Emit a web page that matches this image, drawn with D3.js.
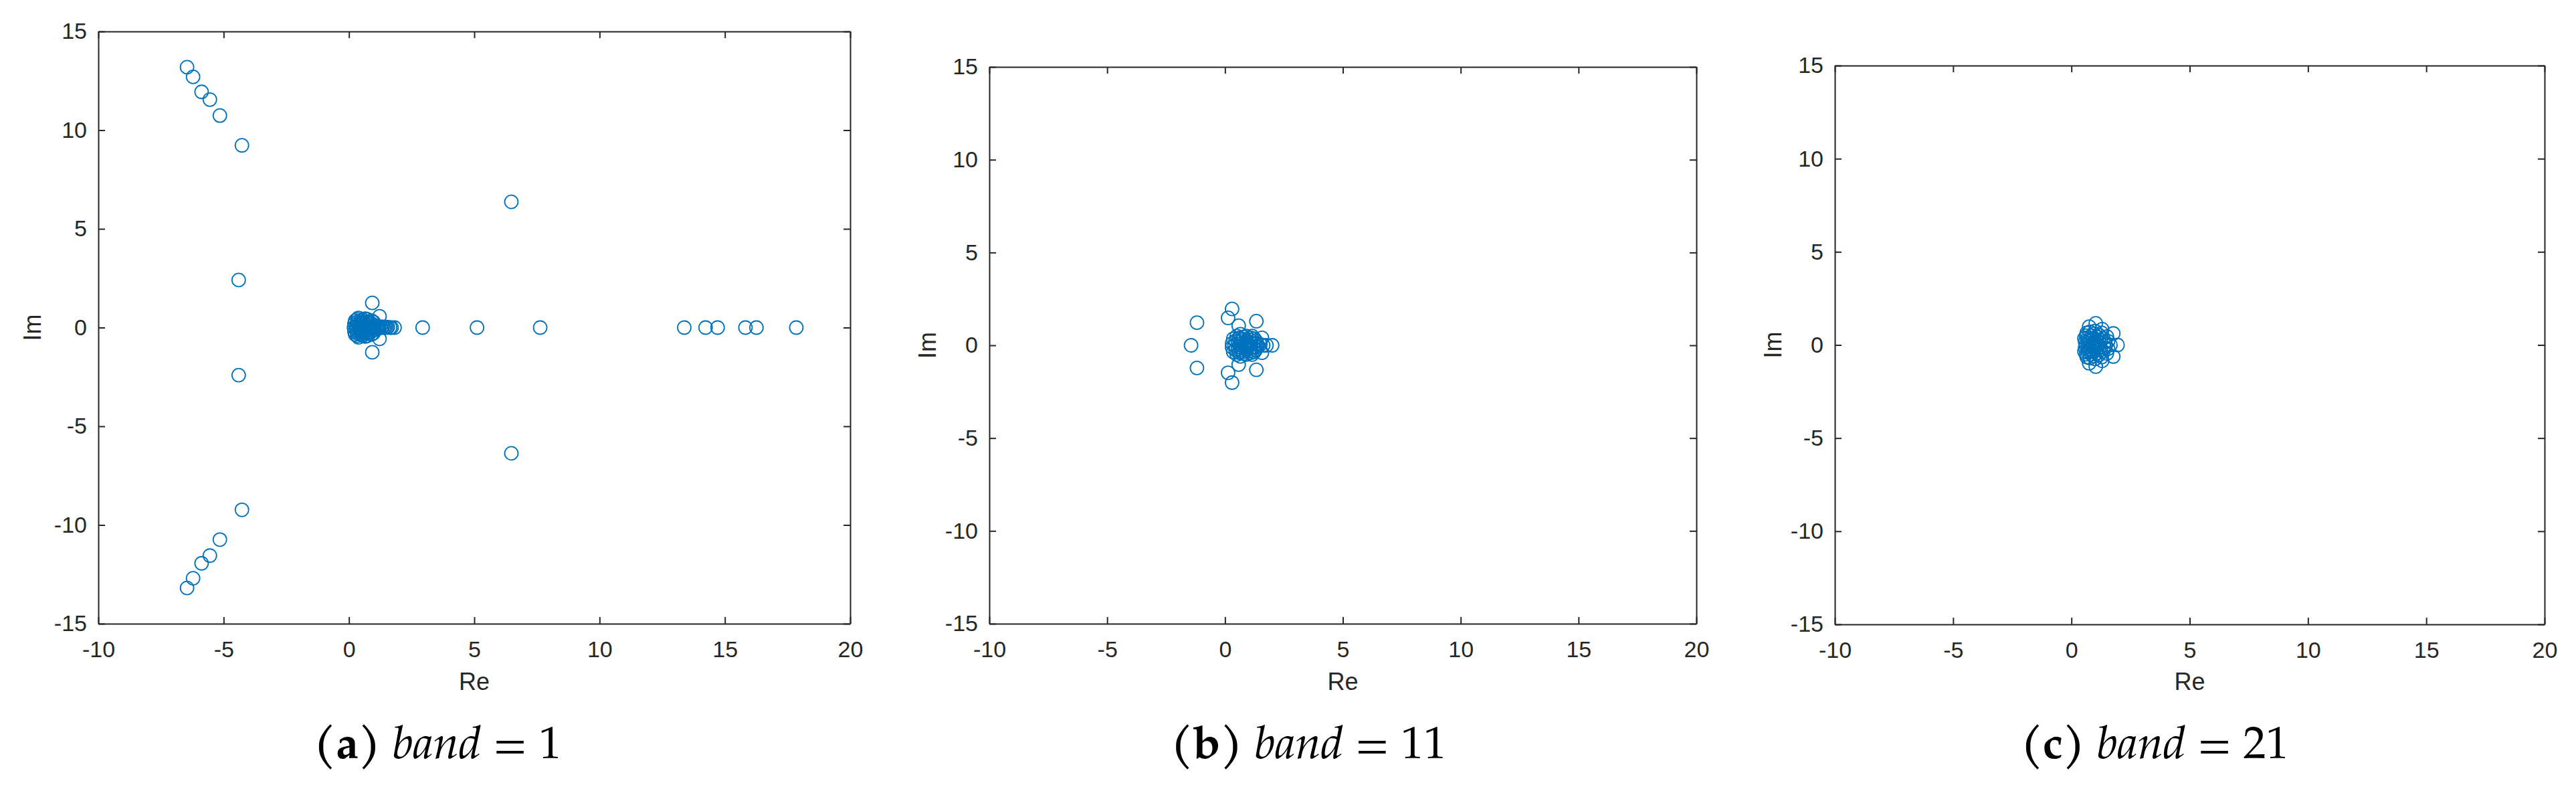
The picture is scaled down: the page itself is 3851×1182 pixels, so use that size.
<!DOCTYPE html>
<html>
<head>
<meta charset="utf-8">
<script src="https://cdn.jsdelivr.net/npm/d3@7"></script>
<style>
  html, body { margin: 0; padding: 0; background: #fff; }
  svg { display: block; }
</style>
</head>
<body>
<script>
// poles [re, im]
const polesBand1 = [
  [-6.46, 13.19], [-6.22, 12.70], [-5.88, 11.94], [-5.55, 11.55], [-5.15, 10.74], [-4.27, 9.23],
  [-6.46, -13.19], [-6.22, -12.70], [-5.88, -11.94], [-5.55, -11.55], [-5.15, -10.74], [-4.27, -9.23],
  [-4.40, 2.41], [-4.40, -2.41], [6.48, 6.37], [6.48, -6.37],
  [2.94, 0], [5.11, 0], [7.63, 0], [13.38, 0], [14.23, 0], [14.71, 0], [15.82, 0], [16.26, 0], [17.85, 0],
  [0.93, 1.25], [0.93, -1.25], [1.22, 0.57], [1.22, -0.57], [0.38, 0.49], [0.38, -0.49],
  [1.82, 0], [1.64, 0], [1.50, 0], [1.40, 0], [1.30, 0], [1.20, 0], [1.10, 0],
  [0.25, 0.35], [0.25, -0.35], [0.30, 0.15], [0.30, -0.15], [0.20, 0], [0.40, 0],
  [0.45, 0.25], [0.45, -0.25], [0.55, 0.40], [0.55, -0.40], [0.60, 0.10], [0.60, -0.10],
  [0.70, 0.30], [0.70, -0.30], [0.75, 0], [0.80, 0.15], [0.80, -0.15], [0.90, 0.35],
  [0.90, -0.35], [0.95, 0], [1.05, 0.10], [1.05, -0.10], [0.50, 0.05], [0.50, -0.05],
  [0.65, 0.45], [0.65, -0.45], [0.35, 0.30], [0.35, -0.30],
  [0.22, 0.20], [0.22, -0.20], [0.28, 0.05], [0.28, -0.05], [0.33, 0.42], [0.33, -0.42],
  [0.42, 0.12], [0.42, -0.12], [0.48, 0.34], [0.48, -0.34], [0.52, 0.18], [0.52, -0.18],
  [0.58, 0.28], [0.58, -0.28], [0.62, 0.02], [0.68, 0.16], [0.68, -0.16], [0.73, 0.42],
  [0.73, -0.42], [0.78, 0.24], [0.78, -0.24], [0.85, 0.05], [0.85, -0.05], [0.88, 0.22],
  [0.88, -0.22], [0.98, 0.28], [0.98, -0.28], [1.00, 0.05], [1.15, 0.05], [1.15, -0.05],
  [1.25, 0.05], [1.35, 0.04], [1.45, 0.03], [1.55, 0.02], [1.70, 0]
];

const polesBand11 = [
  [-1.19, 1.22], [-1.44, 0], [-1.19, -1.22], [0.30, 1.96], [0.13, 1.48], [0.13, -1.48],
  [0.30, -2.01], [1.33, 1.30], [1.33, -1.32], [0.58, 1.06], [0.58, -1.04], [2.00, 0],
  [1.76, 0], [1.57, 0.40], [1.57, -0.40],
  [0.35, 0.35], [0.35, -0.35], [0.40, 0], [0.50, 0.50], [0.50, -0.50], [0.55, 0.20],
  [0.55, -0.20], [0.65, 0.60], [0.65, -0.60], [0.70, 0], [0.75, 0.35], [0.75, -0.35],
  [0.85, 0.15], [0.85, -0.15], [0.90, 0.50], [0.90, -0.50], [1.00, 0], [1.05, 0.30],
  [1.05, -0.30], [1.15, 0.50], [1.15, -0.50], [1.20, 0.10], [1.20, -0.10], [1.30, 0.25],
  [1.30, -0.25], [1.40, 0], [0.30, 0.10], [0.30, -0.10],
  [0.45, 0.25], [0.45, -0.25], [0.60, 0.40], [0.60, -0.40], [0.62, 0.08], [0.62, -0.08],
  [0.70, 0.25], [0.70, -0.25], [0.80, 0.45], [0.80, -0.45], [0.80, 0.02], [0.92, 0.25],
  [0.92, -0.25], [0.95, 0.10], [0.95, -0.10], [1.08, 0.15], [1.08, -0.15], [1.10, 0.40],
  [1.10, -0.40], [1.25, 0.35], [1.25, -0.35], [1.35, 0.10], [1.35, -0.10], [1.50, 0.05],
  [1.62, 0]
];

const polesBand21 = [
  [1.95, 0], [1.77, 0.62], [1.77, -0.62], [1.03, 1.16], [1.03, -1.16], [0.75, 0.98],
  [0.75, -0.98], [1.30, 0.85], [1.30, -0.85], [0.55, 0.35], [0.55, -0.35], [0.60, 0],
  [0.65, 0.65], [0.65, -0.65], [0.80, 0.20], [0.80, -0.20], [0.85, 0.50], [0.85, -0.50],
  [0.95, 0], [1.00, 0.75], [1.00, -0.75], [1.05, 0.30], [1.05, -0.30], [1.15, 0.55],
  [1.15, -0.55], [1.20, 0.10], [1.20, -0.10], [1.35, 0.35], [1.35, -0.35], [1.45, 0],
  [0.70, 0.40], [0.70, -0.40], [1.55, 0.20], [1.55, -0.20],
  [0.58, 0.15], [0.58, -0.15], [0.62, 0.50], [0.62, -0.50], [0.70, 0.10], [0.70, -0.10],
  [0.75, 0.25], [0.75, -0.25], [0.78, 0.70], [0.78, -0.70], [0.88, 0.35], [0.88, -0.35],
  [0.90, 0.08], [0.90, -0.08], [0.95, 0.60], [0.95, -0.60], [1.00, 0.18], [1.00, -0.18],
  [1.10, 0.42], [1.10, -0.42], [1.12, 0.02], [1.25, 0.25], [1.25, -0.25], [1.28, 0.65],
  [1.28, -0.65], [1.40, 0.15], [1.40, -0.15], [1.50, 0.45], [1.50, -0.45], [1.65, 0]
];

const xTicks = [-10, -5, 0, 5, 10, 15, 20];
const yTicks = [-15, -10, -5, 0, 5, 10, 15];
const panelLetters = ["a", "b", "c"];
const bandValues = [1, 11, 21];

const width = 3851, height = 1182;
const blue = "#0072BD", ink = "#262626";
const sans = "'Liberation Sans', Arial, Helvetica, sans-serif";
const serif = "'TeX Gyre Pagella', 'Palatino Linotype', Palatino, 'Liberation Serif', serif";
const plain = d => String(d); // MATLAB uses a hyphen-minus

const panels = [
  {data: polesBand1, left: 147, right: 1271, top: 47, bottom: 932, imX: 48, capX: 654},
  {data: polesBand11, left: 1479, right: 2536, top: 100, bottom: 932, imX: 1386, capX: 1956},
  {data: polesBand21, left: 2743, right: 3804, top: 98, bottom: 933, imX: 2650, capX: 3221}
];

const svg = d3.select("body").append("svg")
  .attr("width", width)
  .attr("height", height)
  .attr("viewBox", [0, 0, width, height]);

svg.append("rect").attr("width", width).attr("height", height).attr("fill", "#fff");

panels.forEach((p, k) => {
  const x = d3.scaleLinear([-10, 20], [p.left, p.right]);
  const y = d3.scaleLinear([-15, 15], [p.bottom, p.top]);
  const g = svg.append("g");

  const style = ax => ax
    .attr("font-family", sans)
    .attr("font-size", 34)
    .attr("color", ink)
    .call(a => a.selectAll("path, line").attr("stroke-width", 2))
    .call(a => a.selectAll("text").attr("fill", ink));

  g.append("g")
    .attr("transform", `translate(0,${p.bottom})`)
    .call(d3.axisBottom(x).tickValues(xTicks).tickFormat(plain).tickSize(-10).tickSizeOuter(0).tickPadding(26))
    .call(style);
  g.append("g")
    .attr("transform", `translate(0,${p.top})`)
    .call(d3.axisTop(x).tickValues(xTicks).tickSize(-10).tickSizeOuter(0).tickFormat(""))
    .call(style);
  g.append("g")
    .attr("transform", `translate(${p.left},0)`)
    .call(d3.axisLeft(y).tickValues(yTicks).tickFormat(plain).tickSize(-10).tickSizeOuter(0).tickPadding(17))
    .call(style);
  g.append("g")
    .attr("transform", `translate(${p.right},0)`)
    .call(d3.axisRight(y).tickValues(yTicks).tickSize(-10).tickSizeOuter(0).tickFormat(""))
    .call(style);

  g.append("g")
    .selectAll("circle")
    .data(p.data)
    .join("circle")
    .attr("cx", d => x(d[0]))
    .attr("cy", d => y(d[1]))
    .attr("r", 10)
    .attr("fill", "none")
    .attr("stroke", blue)
    .attr("stroke-width", 1.8);

  g.append("text")
    .attr("x", (p.left + p.right) / 2)
    .attr("y", 1031)
    .attr("text-anchor", "middle")
    .attr("font-family", sans)
    .attr("font-size", 36)
    .attr("fill", ink)
    .text("Re");

  g.append("text")
    .attr("transform", `translate(${p.imX},${(p.top + p.bottom) / 2}) rotate(-90)`)
    .attr("text-anchor", "middle")
    .attr("dy", "0.35em")
    .attr("font-family", sans)
    .attr("font-size", 36)
    .attr("fill", ink)
    .text("Im");

  const cap = g.append("text")
    .attr("x", p.capX)
    .attr("y", 1133)
    .attr("text-anchor", "middle")
    .attr("font-family", serif)
    .attr("font-size", 68)
    .attr("fill", "#000");
  cap.append("tspan").attr("font-weight", "bold").text(`(${panelLetters[k]})`);
  cap.append("tspan").attr("font-style", "italic").text(" band");
  cap.append("tspan").text(` = ${bandValues[k]}`);
});
</script>
</body>
</html>
